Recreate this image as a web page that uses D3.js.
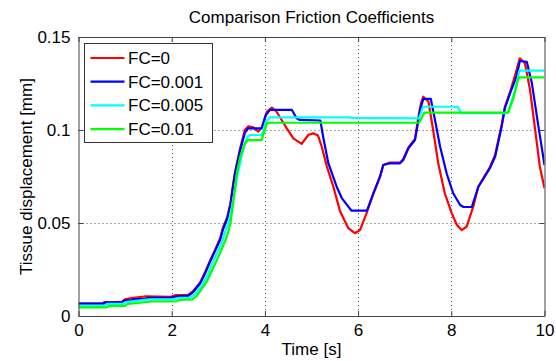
<!DOCTYPE html>
<html>
<head>
<meta charset="utf-8">
<script src="https://cdn.jsdelivr.net/npm/d3@7"></script>
<style>
  body { margin: 0; background: #fff; }
  text { font-family: "Liberation Sans", Arial, sans-serif; fill: #000; }
</style>
</head>
<body>
<div id="chart"></div>
<script>
// Series values: time [s] and displacement [mm]
var tFc0 = [0, 0.50, 0.56, 0.93, 0.99, 1.17, 1.42, 1.98, 2.09, 2.35, 2.46, 2.61, 2.71, 2.82, 2.93, 3.04, 3.10, 3.19, 3.26, 3.32, 3.36, 3.47, 3.57, 3.64, 3.74, 3.86, 3.94, 4.04, 4.15, 4.24, 4.32, 4.47, 4.61, 4.79, 4.93, 5.03, 5.14, 5.22, 5.33, 5.47, 5.61, 5.79, 5.93, 6.04, 6.18, 6.33, 6.47, 6.54, 6.68, 6.90, 6.97, 7.08, 7.22, 7.29, 7.35, 7.40, 7.51, 7.61, 7.72, 7.86, 8.01, 8.12, 8.22, 8.33, 8.47, 8.58, 8.70, 8.83, 8.94, 9.08, 9.15, 9.26, 9.37, 9.47, 9.58, 9.69, 9.80, 9.90, 10];
var yFc0 = [0.0066, 0.0066, 0.0075, 0.0075, 0.0089, 0.0097, 0.0105, 0.0103, 0.0113, 0.0113, 0.0134, 0.0180, 0.0232, 0.0296, 0.0355, 0.0418, 0.0475, 0.0530, 0.0605, 0.0712, 0.0774, 0.0903, 0.1000, 0.1019, 0.1016, 0.0991, 0.1016, 0.1097, 0.1120, 0.1102, 0.1070, 0.1009, 0.0955, 0.0925, 0.0973, 0.0982, 0.0970, 0.0910, 0.0803, 0.0695, 0.0565, 0.0472, 0.0445, 0.0462, 0.0552, 0.0660, 0.0749, 0.0812, 0.0825, 0.0825, 0.0844, 0.0906, 0.0952, 0.1065, 0.1145, 0.1179, 0.1152, 0.1000, 0.0821, 0.0660, 0.0552, 0.0489, 0.0462, 0.0480, 0.0588, 0.0695, 0.0747, 0.0801, 0.0866, 0.1027, 0.1124, 0.1204, 0.1296, 0.1385, 0.1359, 0.1215, 0.1000, 0.0803, 0.0687];

var tFc001 = [0, 0.55, 0.59, 0.93, 0.98, 1.15, 1.19, 1.43, 1.49, 1.98, 2.09, 2.35, 2.46, 2.61, 2.71, 2.82, 2.93, 3.04, 3.10, 3.19, 3.26, 3.32, 3.36, 3.47, 3.57, 3.64, 3.93, 4.02, 4.11, 4.58, 4.68, 4.75, 5.19, 5.25, 5.36, 5.54, 5.65, 5.79, 5.86, 6.19, 6.33, 6.47, 6.54, 6.68, 6.90, 6.97, 7.08, 7.22, 7.29, 7.33, 7.40, 7.56, 7.65, 7.76, 7.90, 8.04, 8.19, 8.26, 8.44, 8.58, 8.70, 8.83, 8.94, 9.08, 9.15, 9.26, 9.40, 9.47, 9.62, 9.73, 9.87, 10];
var yFc001 = [0.0066, 0.0066, 0.0073, 0.0073, 0.0083, 0.0086, 0.0091, 0.0091, 0.0098, 0.0098, 0.0105, 0.0108, 0.0129, 0.0175, 0.0225, 0.0290, 0.0350, 0.0410, 0.0465, 0.0522, 0.0597, 0.0704, 0.0769, 0.0892, 0.0984, 0.1009, 0.1009, 0.1081, 0.1108, 0.1108, 0.1063, 0.1054, 0.1051, 0.0964, 0.0823, 0.0695, 0.0634, 0.0588, 0.0566, 0.0566, 0.0660, 0.0749, 0.0812, 0.0821, 0.0821, 0.0839, 0.0902, 0.0946, 0.1045, 0.1108, 0.1167, 0.1167, 0.1054, 0.0910, 0.0767, 0.0660, 0.0597, 0.0586, 0.0586, 0.0695, 0.0742, 0.0796, 0.0856, 0.1018, 0.1118, 0.1197, 0.1287, 0.1371, 0.1367, 0.1251, 0.1018, 0.0812];

var tFc005 = [0, 0.55, 0.61, 0.95, 1.02, 1.23, 1.51, 2.03, 2.14, 2.39, 2.50, 2.65, 2.76, 2.86, 2.97, 3.08, 3.14, 3.23, 3.29, 3.36, 3.40, 3.51, 3.62, 3.68, 3.93, 4.02, 4.11, 5.83, 5.87, 7.31, 7.39, 8.14, 8.21, 9.21, 9.30, 9.37, 9.46, 10];
var yFc005 = [0.0056, 0.0056, 0.0065, 0.0065, 0.0075, 0.0081, 0.0089, 0.0089, 0.0097, 0.0099, 0.0118, 0.0165, 0.0215, 0.0278, 0.0338, 0.0398, 0.0448, 0.0510, 0.0585, 0.0680, 0.0742, 0.0871, 0.0962, 0.0973, 0.0973, 0.1043, 0.1068, 0.1068, 0.1065, 0.1063, 0.1125, 0.1125, 0.1090, 0.1090, 0.1161, 0.1215, 0.1319, 0.1319];

var tFc01 = [0, 0.59, 0.65, 0.99, 1.06, 1.28, 1.56, 2.07, 2.18, 2.44, 2.54, 2.75, 2.84, 2.97, 3.04, 3.14, 3.21, 3.26, 3.32, 3.39, 3.47, 3.57, 3.64, 3.93, 4.04, 4.11, 7.31, 7.42, 9.22, 9.33, 9.44, 9.47, 10];
var yFc01 = [0.0046, 0.0046, 0.0054, 0.0054, 0.0065, 0.0070, 0.0078, 0.0078, 0.0086, 0.0089, 0.0108, 0.0183, 0.0231, 0.0301, 0.0340, 0.0400, 0.0448, 0.0500, 0.0610, 0.0755, 0.0856, 0.0928, 0.0946, 0.0946, 0.1036, 0.1039, 0.1039, 0.1093, 0.1093, 0.1170, 0.1278, 0.1283, 0.1283];

// Legend names, colours and the axis tick values
var seriesNames = ['FC=0', 'FC=0.001', 'FC=0.005', 'FC=0.01'];
var seriesColors = ['#ff0000', '#0000ff', '#00ffff', '#00ff00'];
var xTicks = [0, 2, 4, 6, 8, 10];
var yTicks = [0, 0.05, 0.1, 0.15];
var yTickLabels = ['0', '0.05', '0.1', '0.15'];

var series = [
  { name: seriesNames[0], color: seriesColors[0], t: tFc0, y: yFc0 },
  { name: seriesNames[1], color: seriesColors[1], t: tFc001, y: yFc001 },
  { name: seriesNames[2], color: seriesColors[2], t: tFc005, y: yFc005 },
  { name: seriesNames[3], color: seriesColors[3], t: tFc01, y: yFc01 }
];

var width = 556, height = 361;
var margin = { left: 78.5, right: 11.5, top: 37, bottom: 45 };
var fontSize = 17;

var svg = d3.select('#chart').append('svg')
  .attr('width', width)
  .attr('height', height);

var x = d3.scaleLinear().domain([0, 10]).range([margin.left, width - margin.right]);
var y = d3.scaleLinear().domain([0, 0.15]).range([height - margin.bottom, margin.top]);

// Dotted grid lines, only inside the box
var grid = svg.append('g').attr('class', 'grid');
grid.selectAll('line.gx')
  .data(xTicks.slice(1, -1))
  .enter().append('line')
  .attr('x1', function(d) { return Math.round(x(d)) + 0.5; })
  .attr('x2', function(d) { return Math.round(x(d)) + 0.5; })
  .attr('y1', y(0.15))
  .attr('y2', y(0))
  .style('stroke', '#555')
  .style('stroke-dasharray', '1,3');
grid.selectAll('line.gy')
  .data(yTicks.slice(1, -1))
  .enter().append('line')
  .attr('y1', function(d) { return Math.round(y(d)) + 0.5; })
  .attr('y2', function(d) { return Math.round(y(d)) + 0.5; })
  .attr('x1', x(0))
  .attr('x2', x(10))
  .style('stroke', '#555')
  .style('stroke-dasharray', '1,3');

// Curves, drawn in MATLAB plot order so the last one sits on top
svg.append('clipPath').attr('id', 'plotClip')
  .append('rect')
  .attr('x', x(0)).attr('y', y(0.15))
  .attr('width', x(10) - x(0)).attr('height', y(0) - y(0.15));

var line = d3.line()
  .x(function(d) { return x(d[0]); })
  .y(function(d) { return y(d[1]); });

svg.append('g')
  .attr('clip-path', 'url(#plotClip)')
  .selectAll('path')
  .data(series)
  .enter().append('path')
  .attr('d', function(s) {
    return line(s.t.map(function(t, i) { return [t, s.y[i]]; }));
  })
  .style('fill', 'none')
  .style('stroke', function(s) { return s.color; })
  .style('stroke-width', 2.2)
  .style('stroke-linejoin', 'round');

// Axes: inward ticks on all four sides, labels bottom and left
var tickLen = 5;
var axisColor = '#444';
var axisBottom = d3.axisBottom(x).tickValues(xTicks).tickSizeInner(-tickLen).tickSizeOuter(0).tickPadding(8);
var axisTop = d3.axisTop(x).tickValues(xTicks).tickSizeInner(-tickLen).tickSizeOuter(0).tickFormat('');
var axisLeft = d3.axisLeft(y).tickValues(yTicks).tickSizeInner(-tickLen).tickSizeOuter(0).tickPadding(8)
  .tickFormat(function(d, i) { return yTickLabels[i]; });
var axisRight = d3.axisRight(y).tickValues(yTicks).tickSizeInner(-tickLen).tickSizeOuter(0).tickFormat('');

function styleAxis(g) {
  g.select('.domain').style('stroke', axisColor);
  g.selectAll('.tick line').style('stroke', axisColor);
  g.selectAll('.tick text')
    .style('font-family', '"Liberation Sans", Arial, sans-serif')
    .style('font-size', fontSize + 'px')
    .style('fill', '#000');
}

svg.append('g').attr('transform', 'translate(0,' + y(0) + ')').call(axisBottom).call(styleAxis);
svg.append('g').attr('transform', 'translate(0,' + y(0.15) + ')').call(axisTop).call(styleAxis);
svg.append('g').attr('transform', 'translate(' + x(0) + ',0)').call(axisLeft).call(styleAxis);
svg.append('g').attr('transform', 'translate(' + x(10) + ',0)').call(axisRight).call(styleAxis);

// Title and axis labels
var cx = (x(0) + x(10)) / 2;
svg.append('text')
  .attr('x', cx).attr('y', 23)
  .attr('text-anchor', 'middle')
  .style('font-size', fontSize + 'px')
  .text('Comparison Friction Coefficients');

svg.append('text')
  .attr('x', cx).attr('y', 355)
  .attr('text-anchor', 'middle')
  .style('font-size', fontSize + 'px')
  .text('Time [s]');

svg.append('text')
  .attr('transform', 'translate(32,' + (y(0) + y(0.15)) / 2 + ') rotate(-90)')
  .attr('text-anchor', 'middle')
  .style('font-size', fontSize + 'px')
  .text('Tissue displacement [mm]');

// Legend box in the upper left corner
var legend = svg.append('g').attr('transform', 'translate(84.5,43.5)');
legend.append('rect')
  .attr('width', 128).attr('height', 99)
  .style('fill', '#fff')
  .style('stroke', '#333');

var entry = legend.selectAll('g.entry')
  .data(series)
  .enter().append('g')
  .attr('transform', function(d, i) { return 'translate(0,' + (14.5 + i * 23.7) + ')'; });

entry.append('line')
  .attr('x1', 6).attr('x2', 40)
  .style('stroke', function(d) { return d.color; })
  .style('stroke-width', 2.2);

entry.append('text')
  .attr('x', 43.5).attr('y', 6)
  .style('font-size', fontSize + 'px')
  .text(function(d) { return d.name; });
</script>
</body>
</html>
